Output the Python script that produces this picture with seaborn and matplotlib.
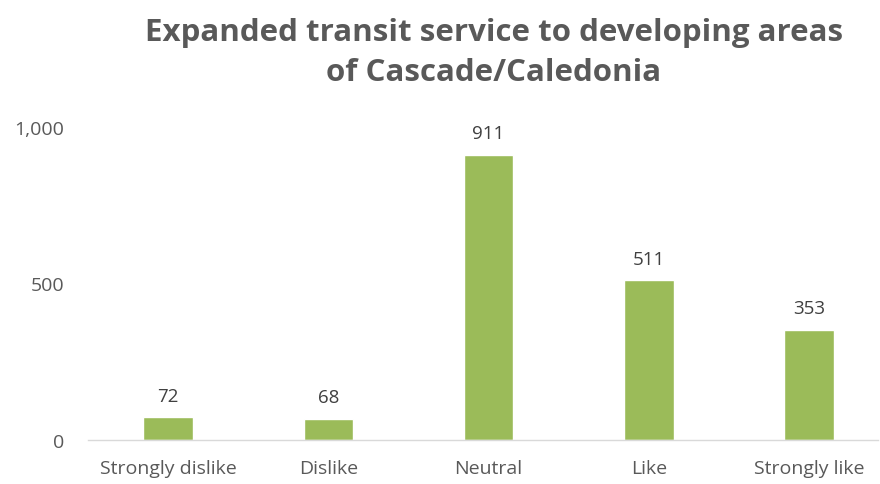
import matplotlib
matplotlib.use('Agg')
import matplotlib.pyplot as plt
import seaborn as sns
import pandas as pd

kategorijos = ['Strongly dislike', 'Dislike', 'Neutral', 'Like', 'Strongly like']
reiksmes = [72, 68, 911, 511, 353]
y_ticks = [0, 500, 1000]
y_tick_labels = ['0', '500', '1,000']
pavadinimas = 'Expanded transit service to developing areas\nof Cascade/Caledonia'

sns.set_style('white')
plt.rcParams['font.family'] = ['Open Sans', 'DejaVu Sans']

df = pd.DataFrame({'Atsakymas': kategorijos, 'Kiekis': reiksmes})

fig = plt.figure(figsize=(8.8, 4.85), dpi=100)
ax = fig.add_axes([88 / 880, 44 / 485, 790 / 880, 313 / 485])

grafikas = sns.barplot(x='Atsakymas', y='Kiekis', data=df, color='#9BBB59',
                       width=0.31, errorbar=None, ax=ax, saturation=1)
for container in grafikas.containers:
    lab = grafikas.bar_label(container, padding=9, fontsize=13.5, color='#404040')
    for t in lab:
        t.set_clip_on(False)

ax.set_xlim(-0.5, 4.43)
ax.set_ylim(0, 1000)
ax.set_yticks(y_ticks)
ax.set_yticklabels(y_tick_labels)
ax.set_xlabel('')
ax.set_ylabel('')
ax.tick_params(axis='both', length=0, labelsize=14, colors='#595959')
ax.tick_params(axis='x', pad=14)
ax.tick_params(axis='y', pad=17)

sns.despine(ax=ax, left=True)
ax.spines['bottom'].set_color('#D9D9D9')
ax.spines['bottom'].set_linewidth(1)

fig.text(494 / 880, 1 - 53 / 485, pavadinimas, ha='center', va='center',
         fontsize=22.5, fontweight='bold', color='#595959', linespacing=1.45)

fig.savefig('out.png', dpi=100)
